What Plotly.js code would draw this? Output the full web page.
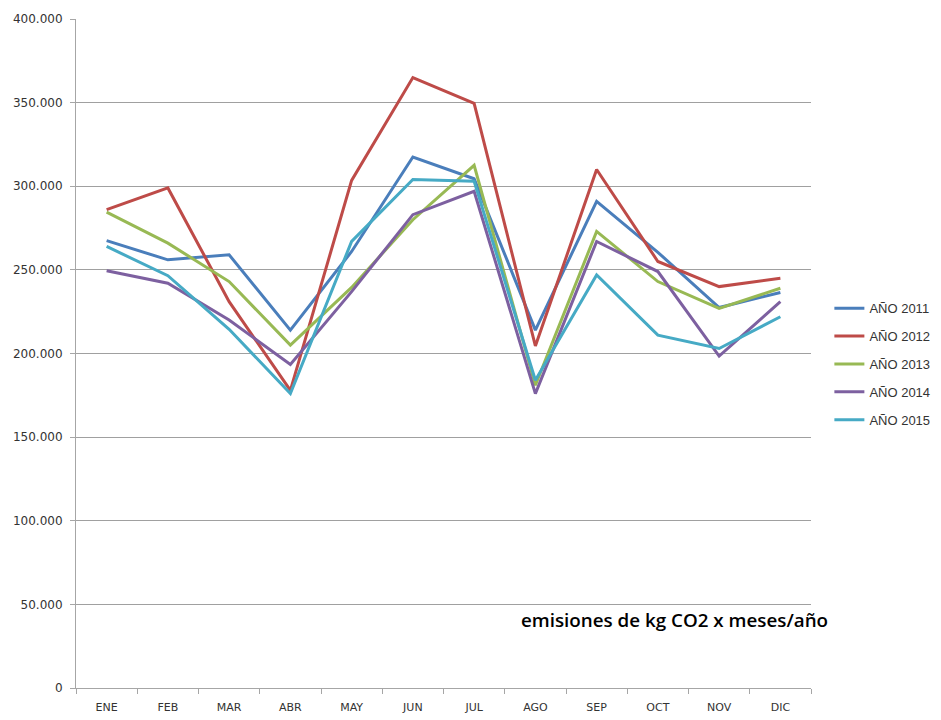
<!DOCTYPE html>
<html>
<head>
<meta charset="utf-8">
<script src="https://cdn.plot.ly/plotly-3.0.1.min.js"></script>
<style>html,body{margin:0;padding:0;background:#fff;}#chart{width:941px;height:720px;}</style>
</head>
<body>
<div id="chart"></div>
<script>
const months = ["ENE","FEB","MAR","ABR","MAY","JUN","JUL","AGO","SEP","OCT","NOV","DIC"];
const seriesNames = ["AÑO 2011","AÑO 2012","AÑO 2013","AÑO 2014","AÑO 2015"];
const y2011 = [267500, 256000, 259000, 214000, 261000, 317500, 304500, 214000, 291000, 260500, 227500, 236500];
const y2012 = [286000, 299000, 231000, 178000, 303500, 365000, 349500, 204500, 310000, 255000, 240000, 245000];
const y2013 = [284500, 266000, 243000, 205000, 239500, 280000, 312500, 181000, 273000, 243000, 227000, 239000];
const y2014 = [249500, 242000, 220000, 193500, 237000, 283000, 297000, 176000, 267000, 249000, 198500, 231000];
const y2015 = [264000, 246500, 214500, 176000, 267000, 304000, 303000, 184000, 247000, 211000, 203000, 222000];
const yTicks = [0, 50000, 100000, 150000, 200000, 250000, 300000, 350000, 400000];
const noteText = "emisiones de kg CO2 x meses/año";

const colors = ["#4A7EBB","#BE4B48","#98B954","#7D60A0","#46AAC5"];
const allY = [y2011, y2012, y2013, y2014, y2015];

const traces = allY.map((ys, i) => ({
  type: "scatter",
  mode: "lines",
  name: seriesNames[i],
  legendgroup: "g" + i,
  x: months,
  y: ys,
  line: {color: colors[i], width: 3},
  hoverinfo: "skip"
}));

const layout = {
  width: 941,
  height: 720,
  margin: {l: 76, r: 130, t: 19, b: 32, autoexpand: false},
  paper_bgcolor: "#ffffff",
  plot_bgcolor: "#ffffff",
  separators: ",.",
  showlegend: true,
  font: {family: "DejaVu Sans, sans-serif", size: 11, color: "#333333"},
  xaxis: {
    type: "category",
    categoryorder: "array",
    categoryarray: months,
    range: [-0.5, 11.5],
    tickson: "boundaries",
    ticks: "outside",
    ticklen: 5,
    tickcolor: "#a6a6a6",
    ticklabelstandoff: 9,
    showline: true,
    linecolor: "#a6a6a6",
    linewidth: 1,
    showgrid: false,
    zeroline: false,
    fixedrange: true,
    automargin: false,
    tickfont: {family: "DejaVu Sans, sans-serif", size: 11, color: "#333333"}
  },
  yaxis: {
    range: [0, 400000],
    tickvals: yTicks,
    tickformat: ",d",
    ticks: "outside",
    ticklen: 5,
    tickcolor: "#a6a6a6",
    ticklabelstandoff: 5,
    showline: true,
    linecolor: "#a6a6a6",
    linewidth: 1,
    showgrid: true,
    gridcolor: "#a0a0a0",
    gridwidth: 1,
    zeroline: false,
    fixedrange: true,
    automargin: false,
    tickfont: {family: "DejaVu Sans, sans-serif", size: 12, color: "#333333"}
  },
  legend: {
    x: 1.025,
    y: 0.484,
    xanchor: "left",
    yanchor: "middle",
    bgcolor: "rgba(0,0,0,0)",
    borderwidth: 0,
    tracegroupgap: 8,
    itemwidth: 30,
    font: {family: "Liberation Sans, Arial, sans-serif", size: 13, color: "#333333"}
  },
  annotations: [{
    text: noteText,
    xref: "paper",
    yref: "paper",
    x: 1.026,
    y: 0.101,
    xanchor: "right",
    yanchor: "middle",
    showarrow: false,
    font: {family: "Open Sans, sans-serif", size: 18.8, weight: 600, color: "#000000"}
  }]
};

Plotly.newPlot("chart", traces, layout, {staticPlot: true, displayModeBar: false});
</script>
</body>
</html>
